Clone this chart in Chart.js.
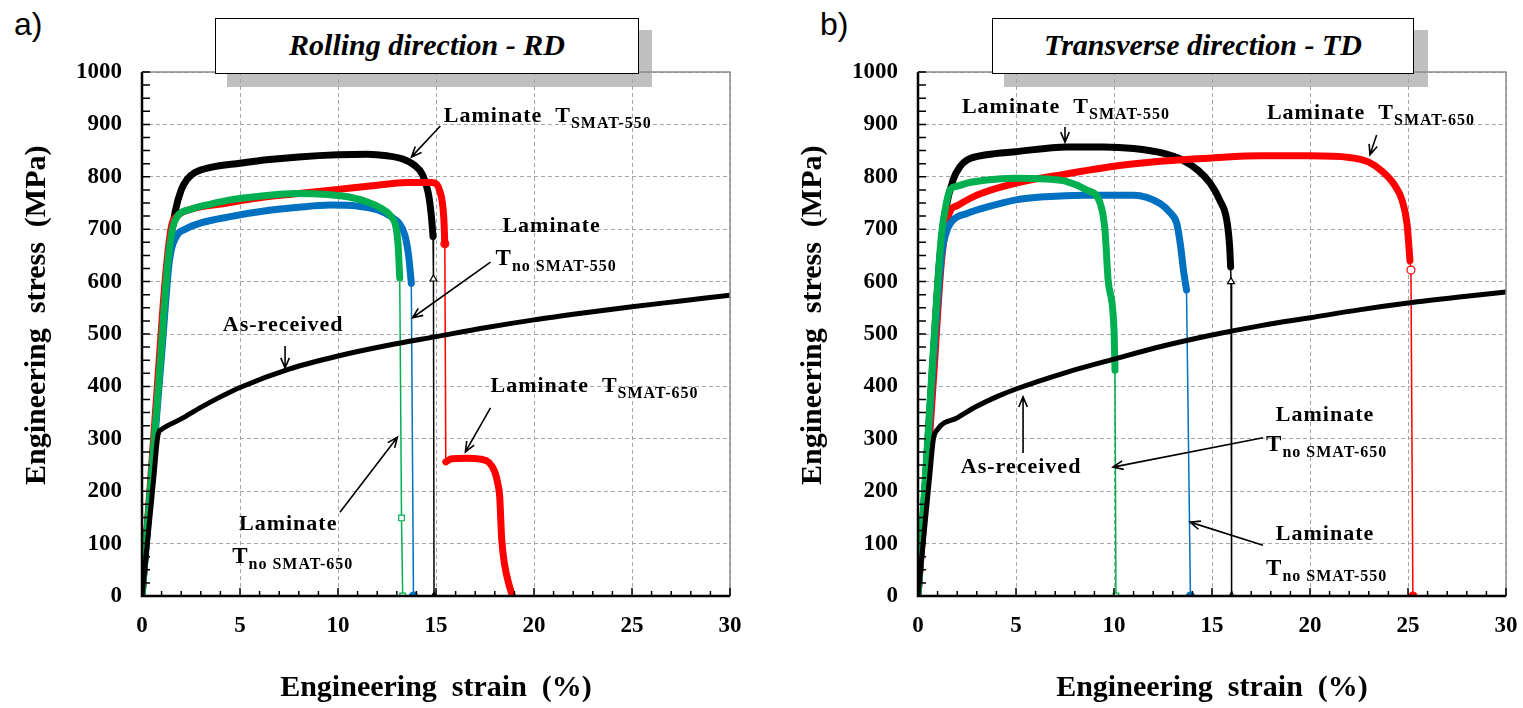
<!DOCTYPE html>
<html>
<head>
<meta charset="utf-8">
<script src="https://cdn.jsdelivr.net/npm/chart.js@4.4.1/dist/chart.umd.min.js"></script>
<style>
  body { margin:0; background:#fff; width:1523px; height:708px; position:relative; overflow:hidden; }
  .wrap { position:absolute; top:0; height:708px; }
  .wrap canvas { position:relative; z-index:1; }
  .tag { position:absolute; top:6px; font:32px "Liberation Sans", Arial, sans-serif; color:#000; }
  .shadow { position:absolute; background:#c0c0c0; z-index:0; }
  .box { position:absolute; background:#fff; border:1.5px solid #000; z-index:2; box-sizing:border-box;
         font:italic bold 30px "Liberation Serif", serif; text-align:center; line-height:52px; color:#000; }
</style>
</head>
<body>
<div class="tag" style="left:14px">a)</div>
<div class="tag" style="left:820px">b)</div>
<div class="shadow" style="left:227px;top:30px;width:425px;height:57px"></div>
<div class="box" style="left:215px;top:18px;width:424px;height:56px">Rolling direction - RD</div>
<div class="shadow" style="left:1004px;top:30px;width:424px;height:57px"></div>
<div class="box" style="left:992px;top:18px;width:422px;height:56px">Transverse direction - TD</div>
<div class="wrap" style="left:0;width:760px"><canvas id="rd"></canvas></div>
<div class="wrap" style="left:776px;width:760px"><canvas id="td"></canvas></div>
<script>
// ---- Rolling direction (RD) ----  strain %, stress MPa
const rdAsRecX = [0, 0.3, 0.6, 0.82, 1, 2, 3, 4, 5, 7.5, 10, 12.5, 15, 17.5, 20, 22.5, 25, 27.5, 30];
const rdAsRecY = [0, 110, 225, 308, 318, 338, 360, 380, 398, 433, 458, 478, 495, 512, 527, 540, 552, 563, 574];

const rd550X = [0, 0.5, 1, 1.4, 1.7, 2, 2.3, 2.7, 3.5, 5, 6.5, 8, 10, 11.5, 12.5, 13.3, 13.9, 14.3, 14.6, 14.75, 14.85];
const rd550Y = [0, 240, 480, 660, 735, 775, 795, 808, 818, 826, 833, 838, 842, 843, 840, 834, 822, 805, 770, 730, 686];
const rd550DropX = [14.85, 14.87, 14.9];
const rd550DropY = [686, 605, 0];

const rd650X = [0, 0.4, 0.8, 1.2, 1.5, 1.8, 2.5, 4, 6, 8, 10, 12, 13.5, 14.8, 15.2, 15.4, 15.45];
const rd650Y = [0, 200, 410, 610, 705, 725, 738, 748, 760, 768, 776, 784, 789, 789, 772, 720, 672];
const rd650DropX = [15.45, 15.5];
const rd650DropY = [672, 256];
const rd650TailX = [15.5, 15.8, 16.5, 17.3, 17.7, 18.0, 18.15, 18.25, 18.3, 18.35, 18.5, 18.7, 18.9];
const rd650TailY = [256, 262, 263, 261, 255, 237, 215, 190, 150, 110, 60, 25, 0];

const rdNo550X = [0, 0.5, 1, 1.4, 1.75, 2.2, 3, 4.5, 6.5, 8, 9.6, 11, 12, 12.7, 13.1, 13.4, 13.6, 13.74];
const rdNo550Y = [0, 230, 460, 640, 686, 700, 712, 724, 736, 742, 746, 744, 737, 724, 712, 690, 650, 597];
const rdNo550DropX = [13.74, 13.85];
const rdNo550DropY = [597, 0];

const rdNo650X = [0, 0.45, 0.9, 1.3, 1.55, 1.8, 2.5, 3.5, 4.5, 6, 7.9, 9.5, 10.5, 11.5, 12.2, 12.7, 12.95, 13.06, 13.15];
const rdNo650Y = [0, 215, 430, 630, 700, 724, 738, 748, 756, 763, 768, 766, 762, 752, 740, 725, 705, 673, 607];
const rdNo650DropX = [13.15, 13.24, 13.3];
const rdNo650DropY = [607, 149, 0];

// ---- Transverse direction (TD) ----
const tdAsRecX = [0, 0.3, 0.6, 0.78, 1, 2, 3, 4, 5, 7.5, 10, 12.5, 15, 17.5, 20, 22.5, 25, 27.5, 30];
const tdAsRecY = [0, 115, 230, 298, 318, 340, 362, 380, 395, 426, 452, 477, 498, 516, 531, 546, 559, 570, 580];

const td550X = [0, 0.4, 0.8, 1.1, 1.4, 1.8, 2.14, 2.5, 3.5, 5, 7.6, 9.5, 11, 12.5, 13.5, 14.3, 14.9, 15.4, 15.75, 15.9, 15.95];
const td550Y = [0, 230, 470, 640, 735, 795, 819, 832, 842, 848, 857, 857, 854, 845, 832, 812, 788, 755, 718, 667, 628];
const td550DropX = [15.95, 15.97, 16.0];
const td550DropY = [628, 600, 0];

const td650X = [0, 0.4, 0.8, 1.2, 1.6, 2, 3, 5, 7.5, 10, 12.5, 15, 17.5, 20, 22, 23, 23.7, 24.3, 24.7, 24.95, 25.1];
const td650Y = [0, 200, 420, 640, 731, 745, 765, 788, 805, 820, 830, 836, 840, 840, 837, 828, 810, 785, 755, 710, 640];
const td650DropX = [25.1, 25.15, 25.25];
const td650DropY = [640, 622, 0];

const tdNo550X = [0, 0.4, 0.8, 1.2, 1.5, 1.8, 2.5, 3.5, 5, 6.5, 8.4, 11, 12.35, 12.9, 13.2, 13.4, 13.55, 13.7];
const tdNo550Y = [0, 230, 460, 650, 700, 718, 730, 742, 756, 762, 765, 765, 749, 730, 711, 667, 620, 584];
const tdNo550DropX = [13.7, 13.9];
const tdNo550DropY = [584, 0];

const tdNo650X = [0, 0.4, 0.8, 1.2, 1.45, 1.63, 2, 2.5, 3.5, 5, 6.5, 7.6, 8.6, 9.3, 9.54, 9.7, 10.0, 10.05];
const tdNo650Y = [0, 240, 480, 690, 750, 775, 782, 788, 794, 797, 796, 791, 775, 749, 698, 603, 508, 431];
const tdNo650DropX = [10.05, 10.1];
const tdNo650DropY = [431, 0];

const xTicks = [0, 5, 10, 15, 20, 25, 30];
const yTicks = [0, 100, 200, 300, 400, 500, 600, 700, 800, 900, 1000];

const RED = '#ff0000', GREEN = '#00b050', BLUE = '#0070c0', BLACK = '#000000';

function pts(xs, ys) {
  return xs.map((v, i) => ({ x: v, y: ys[i] }));
}

function thick(color, xs, ys, w) {
  return {
    data: pts(xs, ys), showLine: true, borderColor: color, borderWidth: w || 7,
    pointRadius: 0, cubicInterpolationMode: 'monotone',
    borderCapStyle: 'round', borderJoinStyle: 'round'
  };
}

function drop(color, xs, ys, style, radii, fills) {
  return {
    data: pts(xs, ys), showLine: true, borderColor: color, borderWidth: 1.5,
    pointStyle: style, pointRadius: radii, pointBorderColor: color,
    pointBackgroundColor: fills, pointBorderWidth: 1.2
  };
}

// minor ticks, frame
const frameTicks = {
  id: 'frameTicks',
  afterDraw(chart) {
    const { ctx, chartArea: a, scales: { x, y } } = chart;
    ctx.save();
    ctx.strokeStyle = '#8c8c8c';
    ctx.lineWidth = 1.5;
    ctx.beginPath();
    ctx.moveTo(a.left, a.top); ctx.lineTo(a.right, a.top); ctx.lineTo(a.right, a.bottom);
    ctx.stroke();
    ctx.strokeStyle = '#000';
    ctx.lineWidth = 1.5;
    ctx.beginPath();
    for (let v = 0; v <= 1000; v += 25) {
      const py = y.getPixelForValue(v);
      ctx.moveTo(a.left, py); ctx.lineTo(a.left + 8, py);
    }
    for (let v = 0; v <= 30; v += 1) {
      const px = x.getPixelForValue(v);
      ctx.moveTo(px, a.bottom); ctx.lineTo(px, a.bottom - (v % 5 ? 5 : 8));
    }
    ctx.stroke();
    ctx.lineWidth = 2.5;
    ctx.beginPath();
    ctx.moveTo(a.left, a.top); ctx.lineTo(a.left, a.bottom); ctx.lineTo(a.right, a.bottom);
    ctx.stroke();
    ctx.restore();
  }
};

// text labels + arrows, placed in data coordinates
const notes = {
  id: 'notes',
  afterDraw(chart, args, opts) {
    const { ctx, scales: { x, y } } = chart;
    ctx.save();
    ctx.fillStyle = '#000';
    ctx.strokeStyle = '#000';
    ctx.lineWidth = 1.6;
    ctx.letterSpacing = '1px';
    ctx.textBaseline = 'alphabetic';
    for (const n of opts.items) {
      if (n.arrow) {
        const x0 = x.getPixelForValue(n.arrow[0]), y0 = y.getPixelForValue(n.arrow[1]);
        const x1 = x.getPixelForValue(n.arrow[2]), y1 = y.getPixelForValue(n.arrow[3]);
        const ang = Math.atan2(y1 - y0, x1 - x0);
        ctx.beginPath();
        ctx.moveTo(x0, y0); ctx.lineTo(x1, y1);
        ctx.moveTo(x1 - 11 * Math.cos(ang - 0.4), y1 - 11 * Math.sin(ang - 0.4));
        ctx.lineTo(x1, y1);
        ctx.lineTo(x1 - 11 * Math.cos(ang + 0.4), y1 - 11 * Math.sin(ang + 0.4));
        ctx.stroke();
        continue;
      }
      let total = 0;
      for (const p of n.parts) {
        ctx.font = 'bold ' + p[1] + 'px "Liberation Serif"';
        total += ctx.measureText(p[0]).width;
      }
      let px = x.getPixelForValue(n.x);
      const py = y.getPixelForValue(n.y);
      if (n.center) px -= total / 2;
      for (const p of n.parts) {
        ctx.font = 'bold ' + p[1] + 'px "Liberation Serif"';
        ctx.fillText(p[0], px, py + p[2]);
        px += ctx.measureText(p[0]).width;
      }
    }
    ctx.restore();
  }
};

function lamT(sub) {
  return [['Laminate  T', 22, 0], [sub, 16, 6]];
}
function tSub(sub) {
  return [['T', 23, 0], [sub, 16, 6]];
}

const rdNotes = [
  { x: 15.4, y: 905, parts: lamT('SMAT-550') },
  { arrow: [15.22, 897, 13.75, 838] },
  { x: 20.9, y: 695, center: true, parts: [['Laminate', 22, 0]] },
  { x: 18.04, y: 632, parts: tSub('no SMAT-550') },
  { arrow: [17.78, 637, 13.8, 531] },
  { x: 7.2, y: 506, center: true, parts: [['As-received', 22, 0]] },
  { arrow: [7.3, 477, 7.3, 435] },
  { x: 17.78, y: 389, parts: lamT('SMAT-650') },
  { arrow: [17.78, 359, 16.5, 275] },
  { x: 7.46, y: 126, center: true, parts: [['Laminate', 22, 0]] },
  { x: 4.6, y: 63, parts: tSub('no SMAT-650') },
  { arrow: [10.1, 160, 13.03, 303] }
];

const tdNotes = [
  { x: 2.24, y: 922, parts: lamT('SMAT-550') },
  { arrow: [7.5, 895, 7.5, 866] },
  { x: 17.8, y: 910, parts: lamT('SMAT-650') },
  { arrow: [23.4, 880, 23.06, 842] },
  { x: 5.26, y: 235, center: true, parts: [['As-received', 22, 0]] },
  { arrow: [5.36, 273, 5.36, 380] },
  { x: 20.77, y: 334, center: true, parts: [['Laminate', 22, 0]] },
  { x: 17.76, y: 277, parts: tSub('no SMAT-650') },
  { arrow: [17.6, 302, 9.95, 246] },
  { x: 20.77, y: 107, center: true, parts: [['Laminate', 22, 0]] },
  { x: 17.76, y: 40, parts: tSub('no SMAT-550') },
  { arrow: [17.6, 97, 13.88, 141] }
];

const tickFont = { family: 'Liberation Serif', size: 23, weight: 'bold' };
const titleFont = { family: 'Liberation Serif', size: 30, weight: 'bold' };

function makeChart(id, datasets, items) {
  return new Chart(document.getElementById(id), {
    type: 'scatter',
    data: { datasets: datasets },
    options: {
      responsive: true,
      maintainAspectRatio: false,
      animation: false,
      layout: { padding: { top: 72, right: 30, left: 0, bottom: 0 } },
      plugins: { legend: { display: false }, tooltip: { enabled: false }, notes: { items: items } },
      scales: {
        x: {
          type: 'linear', min: 0, max: 30,
          afterBuildTicks: (s) => { s.ticks = xTicks.map(v => ({ value: v })); },
          afterFit: (s) => { s.height = 112; },
          ticks: { font: tickFont, color: '#000', padding: 16, maxRotation: 0, callback: v => String(v) },
          grid: { color: '#a6a6a6', lineWidth: 1, drawTicks: false },
          border: { display: false, dash: [4, 3] },
          title: { display: true, text: 'Engineering  strain  (%)', font: titleFont, color: '#000', padding: { top: 0, bottom: 2 } }
        },
        y: {
          type: 'linear', min: 0, max: 1000,
          afterBuildTicks: (s) => { s.ticks = yTicks.map(v => ({ value: v })); },
          afterFit: (s) => { s.width = 142; },
          ticks: { font: tickFont, color: '#000', padding: 20, callback: v => String(v) },
          grid: { color: '#a6a6a6', lineWidth: 1, drawTicks: false },
          border: { display: false, dash: [4, 3] },
          title: { display: true, text: '     Engineering  stress  (MPa)', font: titleFont, color: '#000', padding: { top: 19, bottom: 0 } }
        }
      }
    },
    plugins: [frameTicks, notes]
  });
}

// first dataset is drawn on top
makeChart('rd', [
  thick(BLACK, rdAsRecX, rdAsRecY, 5),
  thick(GREEN, rdNo650X, rdNo650Y),
  drop(GREEN, rdNo650DropX, rdNo650DropY, 'rect', [3, 4, 4], ['#fff', '#fff', '#fff']),
  thick(BLUE, rdNo550X, rdNo550Y),
  drop(BLUE, rdNo550DropX, rdNo550DropY, 'circle', [2, 4], [BLUE, BLUE]),
  thick(RED, rd650X, rd650Y),
  drop(RED, rd650DropX, rd650DropY, 'circle', [4, 0], ['#fff', '#fff']),
  thick(RED, rd650TailX, rd650TailY),
  thick(BLACK, rd550X, rd550Y),
  drop(BLACK, rd550DropX, rd550DropY, 'triangle', [0, 4, 4], ['#fff', '#fff', BLACK])
], rdNotes);

makeChart('td', [
  thick(BLACK, tdAsRecX, tdAsRecY, 5),
  thick(GREEN, tdNo650X, tdNo650Y),
  drop(GREEN, tdNo650DropX, tdNo650DropY, 'rect', [3, 4], ['#fff', '#fff']),
  thick(BLUE, tdNo550X, tdNo550Y),
  drop(BLUE, tdNo550DropX, tdNo550DropY, 'circle', [2, 4], [BLUE, BLUE]),
  thick(RED, td650X, td650Y),
  drop(RED, td650DropX, td650DropY, 'circle', [0, 4, 4], ['#fff', '#fff', RED]),
  thick(BLACK, td550X, td550Y),
  drop(BLACK, td550DropX, td550DropY, 'triangle', [0, 4, 4], ['#fff', '#fff', '#fff'])
], tdNotes);
</script>
</body>
</html>
